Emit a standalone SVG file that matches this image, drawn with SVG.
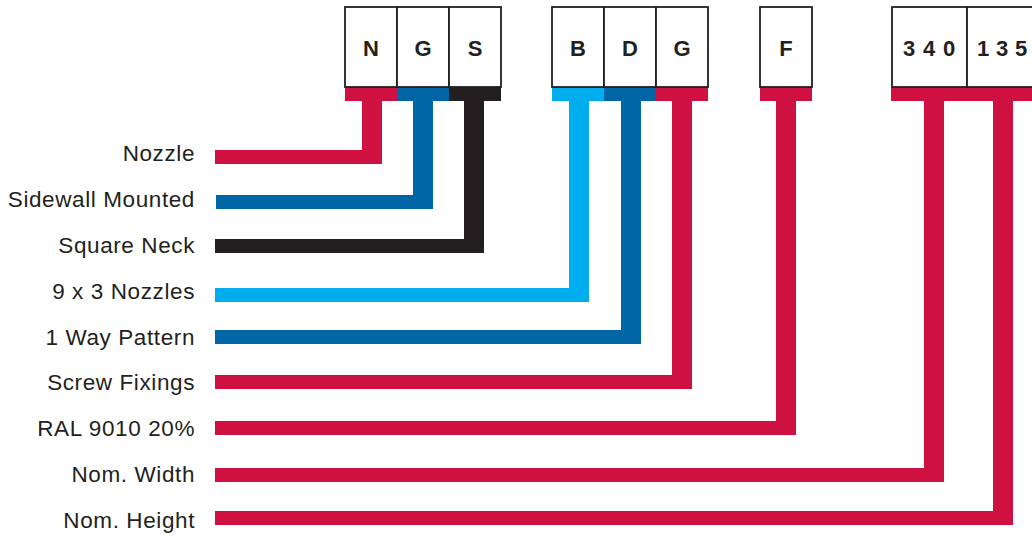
<svg xmlns="http://www.w3.org/2000/svg" width="1032" height="536" viewBox="0 0 1032 536">
<style>
.cell{fill:#fff;stroke:#231f20;stroke-width:1.8}
.code{font-family:"Liberation Sans",Arial,sans-serif;font-weight:bold;font-size:22px;fill:#231f20;text-anchor:middle}
.lbl{font-family:"Liberation Sans",Arial,sans-serif;font-size:22.5px;letter-spacing:0.6px;fill:#231f20;text-anchor:end}
.red{fill:#ce1141}.blue{fill:#0066a6}.black{fill:#231f20}.cyan{fill:#00aeef}
</style>
<rect width="1032" height="536" fill="#fff"/>
<g id="connectors">
  <path class="red" d="M345 87H397V101H382V164H215V150H362V101H345Z"/>
  <path class="blue" d="M397 87H449V101H433V209H216V195H413V101H397Z"/>
  <path class="black" d="M449 87H501V101H484V253H215V239H464V101H449Z"/>
  <path class="cyan" d="M552 87H604V101H589V302H215V288H569V101H552Z"/>
  <path class="blue" d="M604 87H656V101H641V344H215V330H621V101H604Z"/>
  <path class="red" d="M656 87H708V101H692V389H215V375H672V101H656Z"/>
  <path class="red" d="M760 87H812V101H796V435H215V421H776V101H760Z"/>
  <path class="red" d="M891 87H967V101H944V482H215V468H924V101H891Z"/>
  <path class="red" d="M967 87H1045V101H1013V525H215V511H993V101H967Z"/>
</g>
<g id="node-N"><rect class="cell" x="345" y="7" width="52" height="80"/><text class="code" x="371" y="56">N</text></g>
<g id="node-G1"><rect class="cell" x="397" y="7" width="52" height="80"/><text class="code" x="423" y="56">G</text></g>
<g id="node-S"><rect class="cell" x="449" y="7" width="52" height="80"/><text class="code" x="475" y="56">S</text></g>
<g id="node-B"><rect class="cell" x="552" y="7" width="52" height="80"/><text class="code" x="578" y="56">B</text></g>
<g id="node-D"><rect class="cell" x="604" y="7" width="52" height="80"/><text class="code" x="630" y="56">D</text></g>
<g id="node-G2"><rect class="cell" x="656" y="7" width="52" height="80"/><text class="code" x="682" y="56">G</text></g>
<g id="node-F"><rect class="cell" x="760" y="7" width="52" height="80"/><text class="code" x="786" y="56">F</text></g>
<g id="node-340"><rect class="cell" x="892" y="7" width="75" height="80"/><text class="code" x="909 929 949" y="56">340</text></g>
<g id="node-135"><rect class="cell" x="967" y="7" width="78" height="80"/><text class="code" x="983 1002 1021" y="56">135</text></g>
<g id="labels">
  <text class="lbl" x="195" y="161">Nozzle</text>
  <text class="lbl" x="195" y="207">Sidewall Mounted</text>
  <text class="lbl" x="195" y="253">Square Neck</text>
  <text class="lbl" x="195" y="299">9 x 3 Nozzles</text>
  <text class="lbl" x="195" y="345">1 Way Pattern</text>
  <text class="lbl" x="195" y="390">Screw Fixings</text>
  <text class="lbl" x="195" y="436">RAL 9010 20%</text>
  <text class="lbl" x="195" y="482">Nom. Width</text>
  <text class="lbl" x="195" y="528">Nom. Height</text>
</g>
</svg>
